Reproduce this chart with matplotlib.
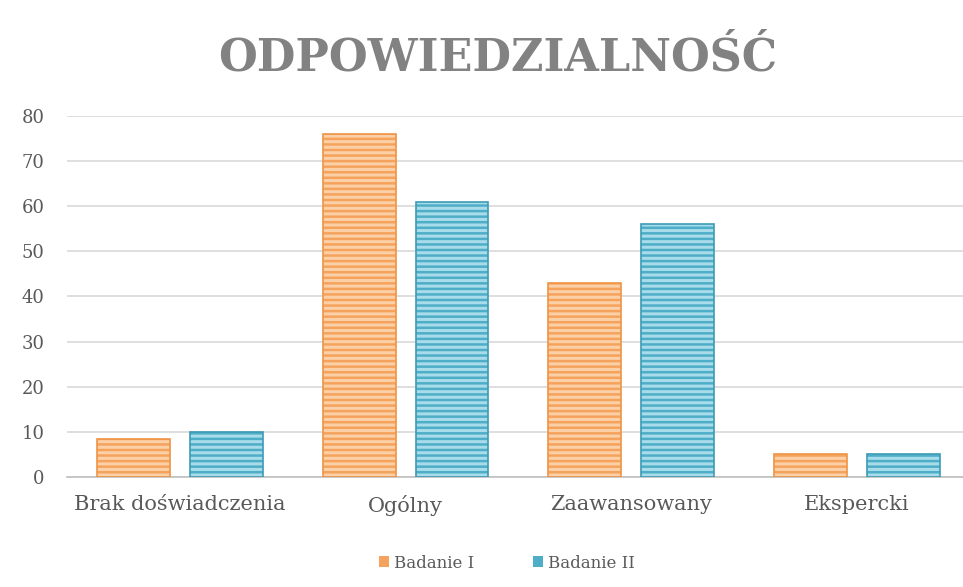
import matplotlib.pyplot as plt
from matplotlib.patches import Patch
import numpy as np

# data
categories = ['Brak doświadczenia', 'Ogólny', 'Zaawansowany', 'Ekspercki']
badanie_1 = [8.5, 76, 43, 5]
badanie_2 = [10, 61, 56, 5]
series_names = ['Badanie I', 'Badanie II']
y_ticks = [0, 10, 20, 30, 40, 50, 60, 70, 80]

plt.rcParams['font.family'] = ['DejaVu Serif']
plt.rcParams['hatch.linewidth'] = 2.2

fig = plt.figure(figsize=(9.63, 5.87), dpi=100)
W, H = 963, 587
ax = fig.add_axes([67 / W, 1 - 477 / H, (W - 67) / W, (477 - 116) / H])

x = np.arange(len(categories))
width = 0.323
offset = 0.206

# fill colour + lighter horizontal stripes (hatch uses edgecolor)
ax.bar(x - offset, badanie_1, width, color='#F5A35C', edgecolor='#FCD0A6',
       hatch='---', linewidth=0, zorder=2)
ax.bar(x + offset, badanie_2, width, color='#4EADC7', edgecolor='#A8DCEA',
       hatch='---', linewidth=0, zorder=2)
# darker outlines
ax.bar(x - offset, badanie_1, width, fill=False, edgecolor='#EE9445', linewidth=1.2, zorder=3)
ax.bar(x + offset, badanie_2, width, fill=False, edgecolor='#3C9BB5', linewidth=1.2, zorder=3)

ax.set_xlim(-0.5, -0.5 + (W - 67) / 225.7)
ax.set_ylim(0, 80)
ax.set_yticks(y_ticks)
ax.set_xticks(x)
ax.set_xticklabels(categories)
ax.yaxis.grid(True, color='#D9D9D9', linewidth=1.2, zorder=0)
ax.set_axisbelow(True)
for s in ['top', 'right', 'left']:
    ax.spines[s].set_visible(False)
ax.spines['bottom'].set_color('#BFBFBF')
ax.spines['bottom'].set_linewidth(1.2)
ax.tick_params(axis='both', length=0, colors='#595959', labelsize=13)
ax.tick_params(axis='y', pad=16)
ax.tick_params(axis='x', pad=13, labelsize=15)

fig.text(498 / W, 1 - 58 / H, 'ODPOWIEDZIALNOŚĆ', ha='center', va='center',
         fontsize=32, fontweight='bold', color='#828282')

handles = [Patch(facecolor='#F5A35C', edgecolor='none'),
           Patch(facecolor='#4EADC7', edgecolor='none')]
leg = fig.legend(handles=handles, labels=series_names, loc='center',
                 bbox_to_anchor=(507 / W, 1 - 563 / H), ncol=2, frameon=False,
                 fontsize=12, handlelength=0.6, handleheight=0.6,
                 handletextpad=0.3, columnspacing=3.5)
for t in leg.get_texts():
    t.set_color('#595959')

fig.savefig('out.png', dpi=100)
